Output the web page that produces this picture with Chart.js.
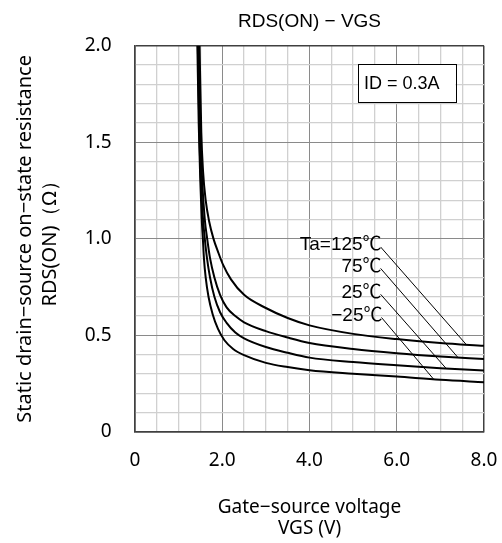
<!DOCTYPE html>
<html>
<head>
<meta charset="utf-8">
<script src="https://cdn.jsdelivr.net/npm/chart.js@4.4.1/dist/chart.umd.min.js"></script>
<style>
    body { margin: 0; background: #fff; }
    #wrap { width: 502px; height: 543px; }
</style>
</head>
<body>
<div id="wrap"><canvas id="chartRds"></canvas></div>
<script>
// RDS(ON) - VGS, ID = 0.3A, one curve per ambient temperature

const vgsM25 = [1.43, 1.46, 1.50, 1.53, 1.556, 1.58, 1.62, 1.685, 1.78, 1.9, 2.05, 2.25, 2.5, 3.0, 3.5, 4.0, 5.0, 6.0, 7.0, 8.0];
const rdsM25 = [2.0, 1.6, 1.28, 1.1, 1.0, 0.9, 0.8, 0.7, 0.61, 0.535, 0.475, 0.43, 0.398, 0.358, 0.336, 0.32, 0.302, 0.287, 0.270, 0.258];

const vgs25 = [1.44, 1.48, 1.52, 1.56, 1.60, 1.65, 1.72, 1.82, 1.95, 2.1, 2.3, 2.5, 3.0, 3.5, 4.0, 5.0, 6.0, 7.0, 8.0];
const rds25 = [2.0, 1.5, 1.25, 1.1, 1.0, 0.9, 0.8, 0.7, 0.62, 0.565, 0.515, 0.485, 0.44, 0.41, 0.385, 0.362, 0.345, 0.33, 0.319];

const vgs75 = [1.46, 1.50, 1.54, 1.60, 1.655, 1.72, 1.82, 1.95, 2.1, 2.3, 2.5, 3.0, 3.5, 4.0, 5.0, 6.0, 7.0, 8.0];
const rds75 = [2.0, 1.55, 1.3, 1.1, 1.0, 0.9, 0.8, 0.71, 0.645, 0.6, 0.568, 0.522, 0.489, 0.461, 0.43, 0.408, 0.391, 0.378];

const vgs125 = [1.48, 1.52, 1.56, 1.62, 1.70, 1.80, 1.90, 2.02, 2.2, 2.5, 3.0, 3.5, 4.0, 5.0, 6.0, 7.0, 8.0];
const rds125 = [2.0, 1.55, 1.35, 1.2, 1.09, 1.0, 0.935, 0.865, 0.79, 0.71, 0.642, 0.590, 0.552, 0.508, 0.481, 0.461, 0.446];

// labels and their leader lines (label end -> point on curve)
const tempLabels = ['−25℃', '25℃', '75℃', 'Ta=125℃'];
const leaderFrom = [[5.65, 0.593], [5.63, 0.713], [5.63, 0.847], [5.63, 0.958]];
const leaderTo = [[6.85, 0.272], [7.14, 0.327], [7.41, 0.384], [7.60, 0.451]];

const xTickLabels = ['0', '2.0', '4.0', '6.0', '8.0'];
const yTickLabels = ['0', '0.5', '1.0', '1.5', '2.0'];

const conditionText = 'ID = 0.3A';

const GRID_MINOR = '#d0d0d0';
const GRID_MAJOR = '#8a8a8a';
const FRAME = '#404040';

const toPoints = (xs, ys) => xs.map((x, i) => ({ x, y: ys[i] }));

const curve = (xs, ys) => ({
    data: toPoints(xs, ys),
    borderColor: '#000',
    borderWidth: 2,
    pointRadius: 0,
    showLine: true,
    cubicInterpolationMode: 'monotone'
});

const leader = (i) => ({
    data: [
        { x: leaderFrom[i][0], y: leaderFrom[i][1] },
        { x: leaderTo[i][0], y: leaderTo[i][1] }
    ],
    borderColor: '#000',
    borderWidth: 1,
    pointRadius: 0,
    showLine: true,
    tension: 0
});

const isMultiple = (v, step) => Math.abs(v / step - Math.round(v / step)) < 1e-6;

const gridColor = (max, major) => (ctx) => {
    const v = ctx.tick.value;
    if (isMultiple(v, max)) return FRAME;
    return isMultiple(v, major) ? GRID_MAJOR : GRID_MINOR;
};
const gridWidth = (max, major) => (ctx) => {
    const v = ctx.tick.value;
    if (isMultiple(v, max)) return 1.5;
    return isMultiple(v, major) ? 1 : 1.3;
};

// temperature labels + condition box
const notesPlugin = {
    id: 'notes',
    afterDatasetsDraw(chart) {
        const { ctx, scales: { x, y } } = chart;
        ctx.save();
        ctx.fillStyle = '#000';
        ctx.font = '19px "Liberation Sans", "Noto Sans CJK JP"';
        ctx.textAlign = 'right';
        ctx.textBaseline = 'alphabetic';
        tempLabels.forEach((txt, i) => {
            const px = x.getPixelForValue(leaderFrom[i][0]);
            const py = y.getPixelForValue(leaderFrom[i][1]);
            ctx.fillText(txt, px + 1, py + 3.5);
        });

        // ID box
        const bx1 = x.getPixelForValue(5.11), bx2 = x.getPixelForValue(7.345);
        const by1 = y.getPixelForValue(1.904), by2 = y.getPixelForValue(1.708);
        ctx.fillStyle = '#fff';
        ctx.fillRect(bx1, by1, bx2 - bx1, by2 - by1);
        ctx.strokeStyle = '#000';
        ctx.lineWidth = 1;
        ctx.strokeRect(Math.round(bx1) + 0.5, Math.round(by1) + 0.5, Math.round(bx2 - bx1), Math.round(by2 - by1));
        ctx.fillStyle = '#000';
        ctx.textAlign = 'left';
        ctx.textBaseline = 'middle';
        ctx.font = '18px "Liberation Sans"';
        ctx.fillText(conditionText, bx1 + 6, (by1 + by2) / 2 + 1);
        ctx.restore();
    }
};

new Chart(document.getElementById('chartRds'), {
    type: 'scatter',
    data: {
        datasets: [
            curve(vgsM25, rdsM25),
            curve(vgs25, rds25),
            curve(vgs75, rds75),
            curve(vgs125, rds125),
            leader(0), leader(1), leader(2), leader(3)
        ]
    },
    options: {
        responsive: true,
        maintainAspectRatio: false,
        animation: false,
        events: [],
        layout: { padding: { top: 0, right: 0, left: 0, bottom: 0 } },
        plugins: {
            legend: { display: false },
            tooltip: { enabled: false },
            title: {
                display: true,
                fullSize: false,
                text: 'RDS(ON) − VGS',
                color: '#000',
                font: { family: 'Liberation Sans', size: 19, weight: 'normal' },
                padding: { top: 10, bottom: 12.9 }
            }
        },
        scales: {
            x: {
                type: 'linear',
                min: 0,
                max: 8,
                afterFit: (scale) => {
                    scale.height = 111;
                    scale.paddingRight = 18;
                },
                ticks: {
                    stepSize: 0.5,
                    autoSkip: false,
                    maxRotation: 0,
                    padding: 17,
                    color: '#000',
                    font: { family: 'Noto Sans', size: 19 },
                    callback: (v) => isMultiple(v, 2) ? xTickLabels[Math.round(v / 2)] : ''
                },
                grid: { drawTicks: false, color: gridColor(8, 2), lineWidth: gridWidth(8, 2) },
                border: { display: true, color: FRAME, width: 1.5 },
                title: {
                    display: true,
                    text: ['Gate−source voltage', 'VGS (V)'],
                    color: '#000',
                    font: { family: 'Noto Sans', size: 19, lineHeight: 1.15 },
                    padding: { top: 0, bottom: 3 }
                }
            },
            y: {
                type: 'linear',
                min: 0,
                max: 2,
                afterFit: (scale) => { scale.width = 135; },
                ticks: {
                    stepSize: 0.1,
                    autoSkip: false,
                    padding: 23.5,
                    color: '#000',
                    font: { family: 'Noto Sans', size: 19 },
                    callback: (v) => isMultiple(v, 0.5) ? yTickLabels[Math.round(v / 0.5)] : ''
                },
                grid: { drawTicks: false, color: gridColor(2, 0.5), lineWidth: gridWidth(2, 0.5) },
                border: { display: true, color: FRAME, width: 1.5 },
                title: {
                    display: true,
                    text: ['Static drain−source on−state resistance', 'RDS(ON)（Ω）'],
                    color: '#000',
                    font: { family: 'Noto Sans', size: 20, lineHeight: 1.25 },
                    padding: { top: 12.5, bottom: 0 }
                }
            }
        }
    },
    plugins: [notesPlugin]
});
</script>
</body>
</html>
